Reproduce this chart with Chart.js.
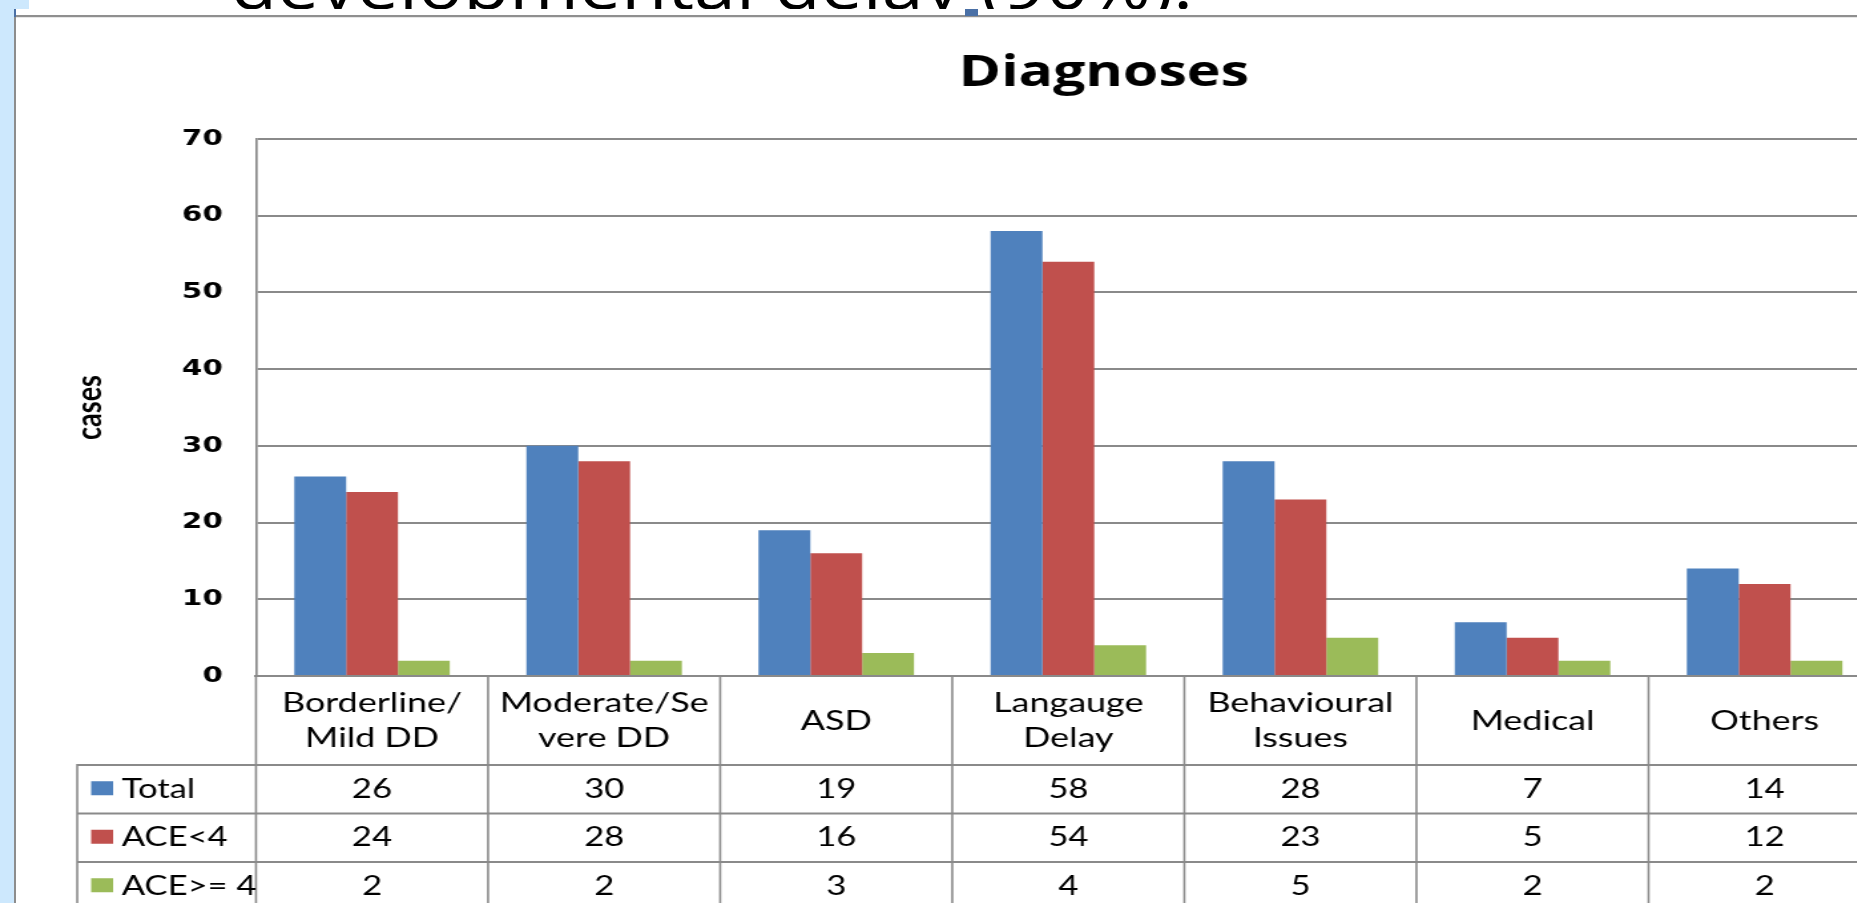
<!DOCTYPE html>
<html>
<head>
<meta charset="utf-8">
<script src="https://cdn.jsdelivr.net/npm/chart.js@4.4.1/dist/chart.umd.min.js"></script>
<style>
  html, body { margin: 0; padding: 0; width: 1857px; height: 903px; overflow: hidden; background: #fff; }
  .abs { position: absolute; }
  #slideSvg { left: 0; top: 0; }
  #cover { left: 0; top: 9px; width: 1857px; height: 894px; background: #fff; }
  #strip { left: 0; top: 0; width: 14px; height: 903px; background: #cde8fd; }
  #stripTop { left: 0; top: 0; width: 29px; height: 9px; background: #cde8fd; }
  #vline { left: 14px; top: 9px; width: 2px; height: 894px; background: #8d8d8d; }
  #vlineTop { left: 14px; top: 9px; width: 2px; height: 8px; background: #4a70a6; }
  #hline { left: 14px; top: 15px; width: 1843px; height: 2px; background: #8f8f8f; }
  #hline2 { left: 16px; top: 17px; width: 1841px; height: 1px; background: #e6e6e6; }
  #marker { left: 965px; top: 9px; width: 13px; height: 7px; background: #4a70a6; }
  #wrap { left: 16px; top: 18px; width: 2200px; height: 900px; }
  #chart { transform: scaleX(1.33); transform-origin: 0 0; display: block; }
</style>
</head>
<body>
<svg id="slideSvg" class="abs" width="1857" height="30" xmlns="http://www.w3.org/2000/svg">
  <text x="231" y="9" font-family="'Open Sans', sans-serif" font-size="66" fill="#000" textLength="962" lengthAdjust="spacingAndGlyphs">developmental delay (90%).</text>
</svg>
<div id="cover" class="abs"></div>
<div id="strip" class="abs"></div>
<div id="stripTop" class="abs"></div>
<div id="hline" class="abs"></div>
<div id="hline2" class="abs"></div>
<div id="vline" class="abs"></div>
<div id="vlineTop" class="abs"></div>
<div id="marker" class="abs"></div>
<div id="wrap" class="abs"><canvas id="chart" width="1636" height="900" style="width:1636px;height:900px"></canvas></div>
<script>
// ---------- data ----------
const chartTitle = 'Diagnoses';
const yAxisTitle = 'cases';
const categories = [
  ['Borderline/', 'Mild DD'],
  ['Moderate/Se', 'vere DD'],
  'ASD',
  ['Langauge', 'Delay'],
  ['Behavioural', 'Issues'],
  'Medical',
  'Others'
];
const seriesNames = ['Total', 'ACE<4', 'ACE>= 4'];
const totalValues = [26, 30, 19, 58, 28, 7, 14];
const aceBelow4Values = [24, 28, 16, 54, 23, 5, 12];
const ace4PlusValues = [2, 2, 3, 4, 5, 2, 2];
const yMin = 0;
const yMax = 70;
const yStep = 10;

// ---------- styles ----------
const COLORS = ['#4F81BD', '#C0504D', '#9BBB59'];
const GRID = '#8a8a8a';

const tablePlugin = {
  id: 'dataTable',
  afterDraw(chart) {
    const { ctx, chartArea } = chart;
    const x = chart.scales.x;
    const n = chart.data.labels.length;
    const colW = (x.right - x.left) / n;
    const top = chartArea.bottom;
    const headH = 89;
    const rowH = 48.5;
    const legendLeft = 46;
    const rowsTop = top + headH;
    const sets = chart.data.datasets;
    const bottom = rowsTop + sets.length * rowH;
    ctx.save();
    ctx.strokeStyle = GRID;
    ctx.lineWidth = 2;
    for (let r = 0; r <= sets.length; r++) {
      const y = rowsTop + r * rowH;
      ctx.beginPath(); ctx.moveTo(legendLeft, y); ctx.lineTo(x.right, y); ctx.stroke();
    }
    ctx.lineWidth = 1.6;
    for (let i = 0; i <= n; i++) {
      const xx = x.left + i * colW;
      ctx.beginPath(); ctx.moveTo(xx, top); ctx.lineTo(xx, bottom + 1); ctx.stroke();
    }
    ctx.beginPath(); ctx.moveTo(legendLeft, rowsTop - 1); ctx.lineTo(legendLeft, bottom + 1); ctx.stroke();

    ctx.textBaseline = 'middle';
    ctx.font = "26px Lato";
    sets.forEach((ds, r) => {
      const cy = rowsTop + r * rowH + rowH / 2;
      ctx.textAlign = 'center';
      ctx.fillStyle = '#000';
      ds.data.forEach((v, i) => {
        ctx.fillText(String(v), x.getPixelForValue(i), cy);
      });
      ctx.fillStyle = ds.backgroundColor;
      ctx.fillRect(56.5, cy - 8, 16.5, 14);
      ctx.fillStyle = '#000';
      ctx.textAlign = 'left';
      ctx.fillText(ds.label, 79.5, cy);
    });
    ctx.restore();
  }
};

new Chart(document.getElementById('chart'), {
  type: 'bar',
  data: {
    labels: categories,
    datasets: [
      { label: seriesNames[0], data: totalValues, backgroundColor: COLORS[0] },
      { label: seriesNames[1], data: aceBelow4Values, backgroundColor: COLORS[1] },
      { label: seriesNames[2], data: ace4PlusValues, backgroundColor: COLORS[2] }
    ]
  },
  options: {
    responsive: false,
    animation: false,
    devicePixelRatio: 1,
    layout: { padding: 0 },
    datasets: { bar: { categoryPercentage: 0.67, barPercentage: 1.0, borderWidth: 0 } },
    plugins: {
      legend: { display: false },
      tooltip: { enabled: false },
      title: {
        display: true,
        text: chartTitle,
        color: '#000',
        font: { family: "'Open Sans'", size: 43, weight: 'bold', lineHeight: 1.2 },
        padding: { top: 30, bottom: 39.4 }
      }
    },
    scales: {
      x: {
        grid: { display: false, drawTicks: false },
        border: { display: true, color: GRID, width: 2 },
        ticks: {
          color: '#000',
          font: { family: 'Lato', size: 27, lineHeight: 1.3 },
          padding: 27.5,
          crossAlign: 'center',
          maxRotation: 0,
          minRotation: 0,
          autoSkip: false
        },
        afterFit(s) { s.height = 242; }
      },
      y: {
        min: yMin,
        max: yMax,
        ticks: {
          stepSize: yStep,
          color: '#000',
          font: { family: "'DejaVu Sans'", size: 22, weight: 'bold' },
          padding: 25
        },
        grid: { color: GRID, lineWidth: 2, drawTicks: false },
        border: { display: true, color: GRID, width: 1.7 },
        title: {
          display: true,
          text: yAxisTitle,
          color: '#000',
          font: { family: 'Lato', size: 27, weight: 'bold', lineHeight: 1.2 },
          padding: { top: 38.8, bottom: 0 }
        },
        afterFit(s) { s.width = 180.45; }
      },
      yRight: {
        type: 'linear',
        position: 'right',
        display: true,
        grid: { display: false, drawTicks: false },
        border: { display: false },
        ticks: { display: false },
        afterFit(s) { s.width = 234; }
      }
    }
  },
  plugins: [tablePlugin]
});
</script>
</body>
</html>
